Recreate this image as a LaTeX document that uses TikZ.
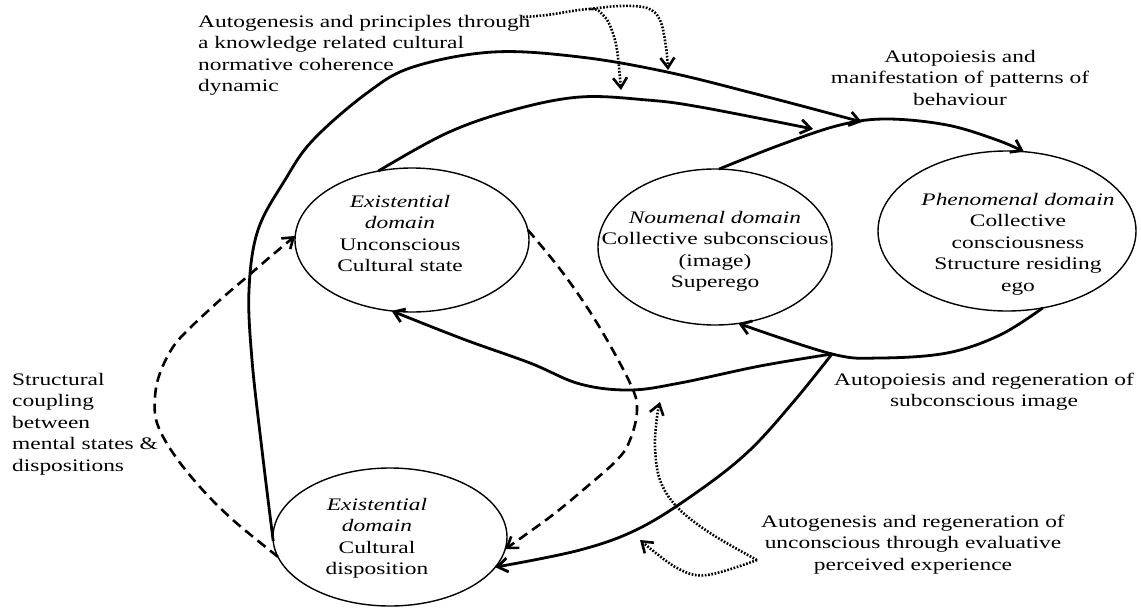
\documentclass[tikz,border=0pt]{standalone}
\usepackage{fontspec}
\setmainfont{Liberation Serif}[FakeStretch=1.33]
\usetikzlibrary{shapes.geometric,arrows.meta}
\begin{document}
\begin{tikzpicture}[x=1pt,y=-1pt,
  dom/.style={ellipse, draw, line width=1.4pt, inner sep=0pt, outer sep=0pt},
  txt/.style={inner sep=0pt, font=\fontsize{17.6}{21.5}\selectfont, align=center, anchor=north},
  ltxt/.style={inner sep=0pt, font=\fontsize{17.6}{21.5}\selectfont, align=left, anchor=north west},
  conn/.style={line width=2.8pt},
  tip/.style={-{Straight Barb[length=10pt,width=14pt]}},
  dashl/.style={line width=2.6pt, dash pattern=on 10pt off 6pt},
  dots/.style={line width=2.6pt, dash pattern=on 1.7pt off 1.6pt},
]
\useasboundingbox (0,0) rectangle (1141,608);

% domains
\node[dom, minimum width=234pt, minimum height=144pt] (e1) at (412,240) {};
\node[dom, minimum width=234pt, minimum height=156pt] (e2) at (715,247) {};
\node[dom, minimum width=258pt, minimum height=160pt] (e3) at (1007,231) {};
\node[dom, minimum width=234pt, minimum height=138pt] (e4) at (390,537) {};

\node[txt] (e1t) at (400,194.7) {\textit{Existential}\\\textit{domain}\\Unconscious\\Cultural state};
\node[txt] (e2t) at (715,210.7) {\textit{Noumenal domain}\\Collective subconscious\\(image)\\Superego};
\node[txt] (e3t) at (1018,192.7) {\textit{Phenomenal domain}\\Collective\\consciousness\\Structure residing\\ego};
\node[txt] (e4t) at (377,497.7) {\textit{Existential}\\\textit{domain}\\Cultural\\disposition};

% labels
\node[ltxt] (t1) at (198,14.7) {Autogenesis and principles through\\a knowledge related cultural\\normative coherence\\dynamic};
\node[txt] (t2) at (960,49.7) {Autopoiesis and\\manifestation of patterns of\\behaviour};
\node[txt] (t3) at (984,372.7) {Autopoiesis and regeneration of\\subconscious image};
\node[txt] (t4) at (913,514.7) {Autogenesis and regeneration of\\unconscious through evaluative\\perceived experience};
\node[ltxt] (t5) at (12,372.7) {Structural\\coupling\\between\\mental states \&\\dispositions};

% free ends
\coordinate (m1) at (862,122);
\coordinate (m2) at (813,129);
\coordinate (J) at (832,354);
\coordinate (d0) at (523,17);
\coordinate (d1) at (590,9);
\coordinate (a1) at (621,90);
\coordinate (a2) at (668,70);
\coordinate (d2) at (757,560);
\coordinate (b1) at (640,540);
\coordinate (b2) at (660,402);

% solid connectors
\draw[conn,tip] plot[smooth,tension=0.6] coordinates {(e4.182) (262,450) (252,360) (249,290) (258,230) (285,180) (313,140) (367,93) (413,67) (493,52) (580,57) (667,72) (760,95) (m1)};
\draw[conn,tip] plot[smooth,tension=0.6] coordinates {(e1.116) (447,133) (513,110) (580,97) (647,100) (700,107) (m2)};
\draw[conn,tip] plot[smooth,tension=0.6] coordinates {(e2.87) (780,145) (840,125) (887,119) (947,125) (997,140) (e3.78)};
\draw[conn,tip] plot[smooth,tension=0.6] coordinates {(e3.-65) (1000,335) (947,353) (880,358) (J) (e2.-73)};
\draw[conn,tip] plot[smooth,tension=0.6] coordinates {(J) (760,366) (680,383) (630,390) (580,384) (530,363) (463,339) (e1.-106)};
\draw[conn,tip] plot[smooth,tension=0.6] coordinates {(J) (795,400) (750,450) (700,490) (640,528) (580,550) (e4.-16)};

% dashed connectors
\draw[dashl,tip] plot[smooth,tension=0.6] coordinates {(e4.190) (233,520) (200,487) (173,453) (157,423) (155,397) (160,373) (173,347) (190,328) (220,300) (248,276) (270,257) (e1.178)};
\draw[dashl,tip] plot[smooth,tension=0.6] coordinates {(e1.5) (563,273) (597,323) (630,383) (637,410) (630,440) (617,460) (583,490) (550,517) (e4.-6)};

% dotted connectors
\draw[dots,tip] plot[smooth,tension=0.6] coordinates {(d0) (547,15) (d1) (603,15) (611,28) (617,50) (a1)};
\draw[dots,tip] plot[smooth,tension=0.6] coordinates {(d1) (620,6) (647,8) (660,20) (666,47) (a2)};
\draw[dots,tip] plot[smooth,tension=0.6] coordinates {(d2) (707,575) (677,568) (b1)};
\draw[dots,tip] plot[smooth,tension=0.6] coordinates {(d2) (710,533) (677,507) (660,480) (655,447) (657,417) (b2)};
\end{tikzpicture}
\end{document}
